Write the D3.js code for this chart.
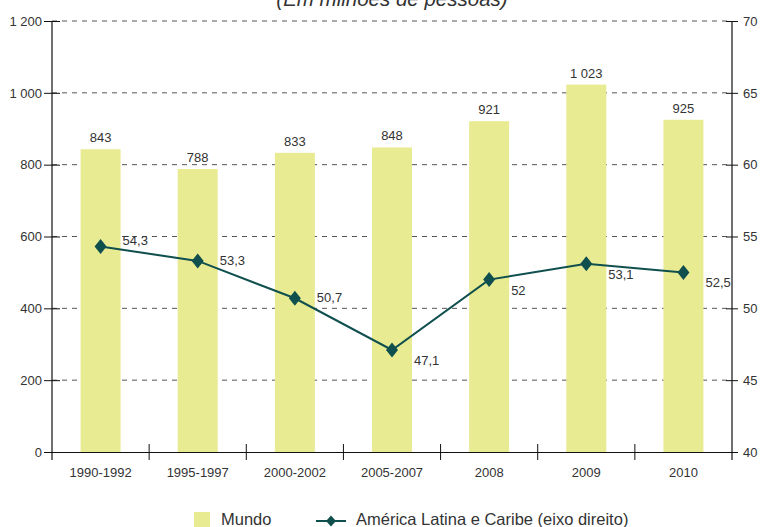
<!DOCTYPE html>
<html>
<head>
<meta charset="utf-8">
<script src="https://cdn.jsdelivr.net/npm/d3@7"></script>
<style>
	body { margin: 0; background: #fff; }
	svg { display: block; font-family: "Liberation Sans", Arial, sans-serif; }
</style>
</head>
<body>
<div id="chart"></div>
<script>
var categories = ['1990-1992', '1995-1997', '2000-2002', '2005-2007', '2008', '2009', '2010'];
var mundo = [843, 788, 833, 848, 921, 1023, 925];
var america = [54.3, 53.3, 50.7, 47.1, 52, 53.1, 52.5];
var leftTicks = [0, 200, 400, 600, 800, 1000, 1200];
var rightTicks = [40, 45, 50, 55, 60, 65, 70];
// where the line label sits relative to its point
var labelPos = ['above', 'right', 'right', 'below', 'below', 'below', 'below'];

var fmt = {
	width: 763,
	height: 527,
	left: 52,
	right: 732,
	top: 21,
	bottom: 452,
	clr_bar: '#e9eb93',
	clr_line: '#0f4f4e',
	clr_text: '#333',
	clr_grid: '#555'
};

var labelDy = { above: -2, right: 4, below: 15 };

var numFmt = function(v) { return d3.format(',')(v).replace(/,/g, ' '); };
var decFmt = function(v) { return String(v).replace('.', ','); };

var svg = d3.select('#chart').append('svg')
	.attr('width', fmt.width)
	.attr('height', fmt.height);

var x = d3.scaleBand().domain(categories).range([fmt.left, fmt.right]);
var yL = d3.scaleLinear().domain([0, 1200]).range([fmt.bottom, fmt.top]);
var yR = d3.scaleLinear().domain([40, 70]).range([fmt.bottom, fmt.top]);

// title (clipped at top like the reference)
svg.append('text')
	.attr('x', (fmt.left + fmt.right) / 2)
	.attr('y', 6)
	.attr('text-anchor', 'middle')
	.style('font-style', 'italic')
	.style('font-size', '20.5px')
	.attr('fill', fmt.clr_text)
	.text('(Em milhões de pessoas)');

// grid
svg.append('g').selectAll('line')
	.data(leftTicks.filter(function(d) { return d > 0; }))
	.join('line')
	.attr('x1', fmt.left).attr('x2', fmt.right)
	.attr('y1', function(d) { return yL(d); })
	.attr('y2', function(d) { return yL(d); })
	.attr('stroke', fmt.clr_grid)
	.attr('stroke-width', 1)
	.attr('stroke-dasharray', '5,5');

// bars
var bw = 40;
svg.append('g').selectAll('rect')
	.data(mundo)
	.join('rect')
	.attr('x', function(d, i) { return x(categories[i]) + x.bandwidth() / 2 - bw / 2; })
	.attr('y', function(d) { return yL(d); })
	.attr('width', bw)
	.attr('height', function(d) { return yL(0) - yL(d); })
	.attr('fill', fmt.clr_bar);

svg.append('g').selectAll('text')
	.data(mundo)
	.join('text')
	.attr('x', function(d, i) { return x(categories[i]) + x.bandwidth() / 2; })
	.attr('y', function(d) { return yL(d) - 7; })
	.attr('text-anchor', 'middle')
	.style('font-size', '13px')
	.attr('fill', fmt.clr_text)
	.text(function(d) { return numFmt(d); });

// left axis
var axL = svg.append('g')
	.attr('transform', `translate(${fmt.left},0)`)
	.call(d3.axisLeft(yL).tickValues(leftTicks).tickSize(8).tickPadding(3).tickFormat(numFmt));
axL.select('.domain').remove();
axL.selectAll('.tick line').attr('x2', 8).attr('x1', -8).attr('stroke', '#111');
axL.selectAll('.tick text').style('font-size', '13px').attr('fill', fmt.clr_text).attr('x', -10);
svg.append('line').attr('x1', fmt.left).attr('x2', fmt.left)
	.attr('y1', fmt.top).attr('y2', fmt.bottom + 8).attr('stroke', '#111').attr('stroke-width', 1.2);

// right axis
var axR = svg.append('g')
	.attr('transform', `translate(${fmt.right},0)`)
	.call(d3.axisRight(yR).tickValues(rightTicks).tickSize(6).tickFormat(d3.format('d')));
axR.select('.domain').remove();
axR.selectAll('.tick line').attr('x1', -6).attr('x2', 6).attr('stroke', '#111');
axR.selectAll('.tick text').style('font-size', '13px').attr('fill', fmt.clr_text).attr('x', 11);
svg.append('line').attr('x1', fmt.right).attr('x2', fmt.right)
	.attr('y1', fmt.top).attr('y2', fmt.bottom + 8).attr('stroke', '#111').attr('stroke-width', 1.2);

// bottom axis
var axB = svg.append('g')
	.attr('transform', `translate(0,${fmt.bottom})`)
	.call(d3.axisBottom(x).tickSize(0).tickPadding(16));
axB.select('.domain').attr('stroke', '#111').attr('stroke-width', 1.2);
axB.selectAll('.tick text').style('font-size', '13px').attr('fill', fmt.clr_text);
axB.append('g').selectAll('line')
	.data(categories.slice(1))
	.join('line')
	.attr('x1', function(d) { return x(d); })
	.attr('x2', function(d) { return x(d); })
	.attr('y1', -8).attr('y2', 8)
	.attr('stroke', '#111');

// line series
var cx = function(i) { return x(categories[i]) + x.bandwidth() / 2; };
var line = d3.line()
	.x(function(d, i) { return cx(i); })
	.y(function(d) { return yR(d); });

svg.append('path')
	.datum(america)
	.attr('d', line)
	.attr('fill', 'none')
	.attr('stroke', fmt.clr_line)
	.attr('stroke-width', 2);

var diamond = function(w, h) {
	return `M0,${-h / 2}L${w / 2},0L0,${h / 2}L${-w / 2},0Z`;
};

svg.append('g').selectAll('path')
	.data(america)
	.join('path')
	.attr('transform', function(d, i) { return `translate(${cx(i)},${yR(d)})`; })
	.attr('d', diamond(12, 15))
	.attr('fill', fmt.clr_line);

svg.append('g').selectAll('text')
	.data(america)
	.join('text')
	.attr('x', function(d, i) { return cx(i) + 22; })
	.attr('y', function(d, i) { return yR(d) + labelDy[labelPos[i]]; })
	.style('font-size', '13px')
	.attr('fill', fmt.clr_text)
	.text(decFmt);

// legend
var lg = svg.append('g');
lg.append('rect').attr('x', 194).attr('y', 512).attr('width', 16).attr('height', 16).attr('fill', fmt.clr_bar);
lg.append('text').attr('x', 221).attr('y', 525).style('font-size', '16.5px').attr('fill', fmt.clr_text).text('Mundo');
lg.append('line').attr('x1', 316).attr('x2', 346).attr('y1', 521).attr('y2', 521)
	.attr('stroke', fmt.clr_line).attr('stroke-width', 2);
lg.append('path').attr('transform', 'translate(331,521)').attr('d', diamond(10, 11)).attr('fill', fmt.clr_line);
lg.append('text').attr('x', 356).attr('y', 525).style('font-size', '16.5px').attr('fill', fmt.clr_text)
	.text('América Latina e Caribe (eixo direito)');
</script>
</body>
</html>
